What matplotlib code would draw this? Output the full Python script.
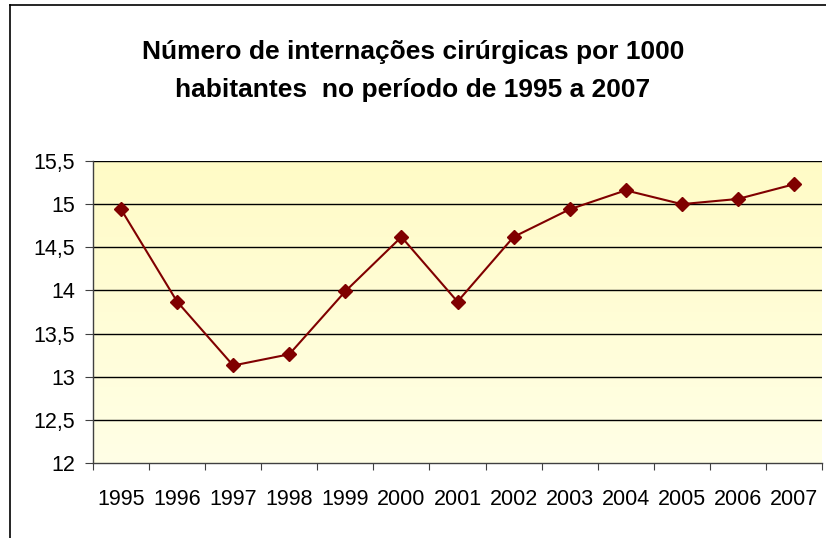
import numpy as np
import matplotlib
matplotlib.use("Agg")
import matplotlib.pyplot as plt
from matplotlib.colors import LinearSegmentedColormap
from matplotlib.lines import Line2D
from matplotlib.ticker import FixedLocator, FuncFormatter

# data
years = ["1995", "1996", "1997", "1998", "1999", "2000", "2001",
         "2002", "2003", "2004", "2005", "2006", "2007"]
internacoes = [14.94, 13.87, 13.13, 13.26, 13.99, 14.62, 13.87,
               14.62, 14.94, 15.16, 15.00, 15.06, 15.23]
y_ticks = [12, 12.5, 13, 13.5, 14, 14.5, 15, 15.5]
title = "Número de internações cirúrgicas por 1000\nhabitantes  no período de 1995 a 2007"

plt.rcParams["font.family"] = ["Liberation Sans", "DejaVu Sans"]

fig = plt.figure(figsize=(8.26, 5.38), dpi=100)
W, H = 826, 538
ax = fig.add_axes([93 / W, 1 - 463 / H, (822 - 93) / W, (463 - 161) / H])

# gradient background, yellow at top fading lighter to the bottom
cmap = LinearSegmentedColormap.from_list("bg", ["#FFFFE6", "#FFFBC6"])
grad = np.linspace(0, 1, 256).reshape(-1, 1)
ax.imshow(grad, aspect="auto", cmap=cmap, origin="lower",
          extent=(-0.5, len(years) - 0.5, 12, 15.5), zorder=0)

x = np.arange(len(years))
ax.plot(x, internacoes, color="#800000", lw=1.5, marker="D", ms=7.5,
        markeredgecolor="#800000", zorder=3)

ax.set_xlim(-0.5, len(years) - 0.5)
ax.set_ylim(12, 15.5)
ax.set_yticks(y_ticks)
ax.yaxis.set_major_formatter(FuncFormatter(lambda v, p: f"{v:g}".replace(".", ",")))
for v in y_ticks[1:]:
    ax.axhline(v, color="black", lw=1, zorder=1)

ax.xaxis.set_major_locator(FixedLocator(np.arange(len(years) + 1) - 0.5))
ax.xaxis.set_minor_locator(FixedLocator(x))
ax.set_xticklabels([])
ax.set_xticklabels(years, minor=True)
ax.tick_params(axis="x", which="major", length=5, color="#404040", direction="out")
ax.tick_params(axis="x", which="minor", length=0, pad=19, labelsize=15.5)
ax.tick_params(axis="y", length=6, color="#404040", labelsize=15.5, pad=7)

for s in ["top", "right"]:
    ax.spines[s].set_visible(False)
for s in ["left", "bottom"]:
    ax.spines[s].set_color("#404040")
    ax.spines[s].set_linewidth(1)

fig.text(413 / W, 1 - 71 / H, title, ha="center", va="center",
         fontsize=19, fontweight="bold", linespacing=1.75)

# outer chart frame (only left and top visible in the crop)
fig.add_artist(Line2D([10 / W, 10 / W], [0, 1 - 5 / H], color="black", lw=1.2,
                      transform=fig.transFigure))
fig.add_artist(Line2D([10 / W, 1], [1 - 5 / H, 1 - 5 / H], color="black", lw=1.2,
                      transform=fig.transFigure))

fig.savefig("out.png", dpi=100)
